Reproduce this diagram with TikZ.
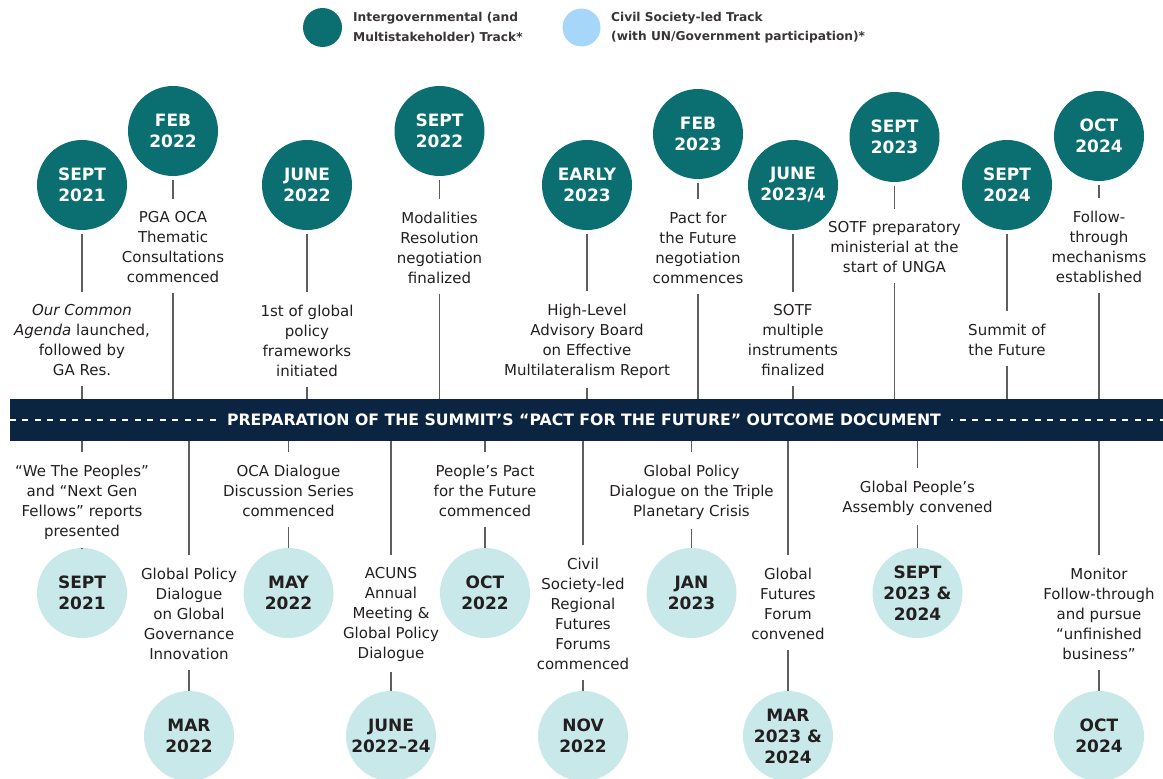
\documentclass[tikz,border=0pt]{standalone}
\usepackage{fontspec}
\setmainfont{DejaVu Sans}
\definecolor{tealdark}{HTML}{0B6F71}
\definecolor{tealight}{HTML}{C9E8EA}
\definecolor{legblue}{HTML}{A6D7FA}
\definecolor{navy}{HTML}{0A2441}
\definecolor{ink}{HTML}{231F20}
\definecolor{linegray}{HTML}{5E5E5E}
\tikzset{
  topc/.style={circle, fill=tealdark, minimum size=90pt, inner sep=0pt, text=white, font=\bfseries\fontsize{17}{21}\selectfont, align=center},
  botc/.style={circle, fill=tealight, minimum size=90pt, inner sep=0pt, text=ink, font=\bfseries\fontsize{17}{21}\selectfont, align=center},
  lbl/.style={anchor=north, inner sep=0pt, text=ink, font=\fontsize{15}{20}\selectfont, align=center},
  legtxt/.style={anchor=west, inner sep=0pt, text=ink!90, font=\bfseries\fontsize{12.2}{19.5}\selectfont, align=left},
  conn/.style={draw=linegray, line width=1.4pt},
  upc/.style={conn, shorten <=4pt, shorten >=13pt},
  upb/.style={conn, shorten <=10pt},
  dnb/.style={conn, shorten >=13pt},
  dnc/.style={conn, shorten <=10pt},
}
\begin{document}
\begin{tikzpicture}[x=1pt,y=-1pt]
\useasboundingbox (0,0) rectangle (1163,779);
% legend
\node[circle, fill=tealdark, minimum size=39pt, inner sep=0pt] (legA) at (322.5,27.5) {};
\node[legtxt] (legAt) at (353,27.5) {Intergovernmental (and\\Multistakeholder) Track*};
\node[circle, fill=legblue, minimum size=38pt, inner sep=0pt] (legB) at (581.5,27.5) {};
\node[legtxt] (legBt) at (611,27.5) {Civil Society-led Track\\(with UN/Government participation)*};
% band
\node[fill=navy, minimum width=1153pt, minimum height=42pt, inner sep=0pt] (band) at (586.5,420) {};
\draw[white, line width=1.5pt, dash pattern=on 6pt off 6.5pt] (band.west) -- (band.east);
\node[fill=navy, inner xsep=10pt, inner ysep=2pt, text=white, font=\bfseries\fontsize{15.7}{20}\selectfont] (bandtxt) at (584,420) {PREPARATION OF THE SUMMIT’S “PACT FOR THE FUTURE” OUTCOME DOCUMENT};
% top row
\node[topc] (c1) at (82,185) {SEPT\\2021};
\node[lbl] (t1) at (82,304.5) {\textit{Our Common}\\\textit{Agenda} launched,\\followed by\\GA Res.};
\node[topc] (c2) at (173,131) {FEB\\2022};
\node[lbl] (t2) at (173,211.5) {PGA OCA\\Thematic\\Consultations\\commenced};
\node[topc] (c3) at (307,185) {JUNE\\2022};
\node[lbl] (t3) at (307,304.5) {1st of global\\policy\\frameworks\\initiated};
\node[topc] (c4) at (439.5,131) {SEPT\\2022};
\node[lbl] (t4) at (439.5,211.5) {Modalities\\Resolution\\negotiation\\finalized};
\node[topc] (c5) at (587,185) {EARLY\\2023};
\node[lbl] (t5) at (587,303.5) {High-Level\\Advisory Board\\on Effective\\Multilateralism Report};
\node[topc] (c6) at (698,134) {FEB\\2023};
\node[lbl] (t6) at (698,211.5) {Pact for\\the Future\\negotiation\\commences};
\node[topc] (c7) at (793,185) {JUNE\\2023/4};
\node[lbl] (t7) at (793,304.5) {SOTF\\multiple\\instruments\\finalized};
\node[topc] (c8) at (894.5,137) {SEPT\\2023};
\node[lbl] (t8) at (894.5,221.5) {SOTF preparatory\\ministerial at the\\start of UNGA};
\node[topc] (c9) at (1007,185) {SEPT\\2024};
\node[lbl] (t9) at (1007,323.5) {Summit of\\the Future};
\node[topc] (c10) at (1099,136) {OCT\\2024};
\node[lbl] (t10) at (1099,210.5) {Follow-\\through\\mechanisms\\established};
\foreach \i in {1,...,10}{
  \draw[upc] (c\i) -- (t\i);
  \draw[upb] (t\i) -- (t\i |- band.north);
}
% bottom row
\node[lbl] (s1) at (82,464.5) {“We The Peoples”\\and “Next Gen\\Fellows” reports\\presented};
\node[botc] (d1) at (82,593) {SEPT\\2021};
\node[lbl] (s2) at (189,567.5) {Global Policy\\Dialogue\\on Global\\Governance\\Innovation};
\node[botc] (d2) at (189,736) {MAR\\2022};
\node[lbl] (s3) at (288.5,464.5) {OCA Dialogue\\Discussion Series\\commenced};
\node[botc] (d3) at (288.5,593) {MAY\\2022};
\node[lbl] (s4) at (391,567.5) {ACUNS\\Annual\\Meeting \&\\Global Policy\\Dialogue};
\node[botc] (d4) at (391,736) {JUNE\\2022–24};
\node[lbl] (s5) at (485,464.5) {People’s Pact\\for the Future\\commenced};
\node[botc] (d5) at (485,593) {OCT\\2022};
\node[lbl] (s6) at (583,557.5) {Civil\\Society-led\\Regional\\Futures\\Forums\\commenced};
\node[botc] (d6) at (583,736) {NOV\\2022};
\node[lbl] (s7) at (691.5,464.5) {Global Policy\\Dialogue on the Triple\\Planetary Crisis};
\node[botc] (d7) at (691.5,593) {JAN\\2023};
\node[lbl] (s8) at (788,567.5) {Global\\Futures\\Forum\\convened};
\node[botc] (d8) at (788,736) {MAR\\2023 \&\\2024};
\node[lbl] (s9) at (917.5,480.5) {Global People’s\\Assembly convened};
\node[botc] (d9) at (917.5,593) {SEPT\\2023 \&\\2024};
\node[lbl] (s10) at (1099,567.5) {Monitor\\Follow-through\\and pursue\\“unfinished\\business”};
\node[botc] (d10) at (1099,736) {OCT\\2024};
\foreach \i in {1,...,10}{
  \draw[dnb] (s\i |- band.south) -- (s\i);
  \draw[dnc] (s\i) -- (d\i);
}
\end{tikzpicture}
\end{document}
